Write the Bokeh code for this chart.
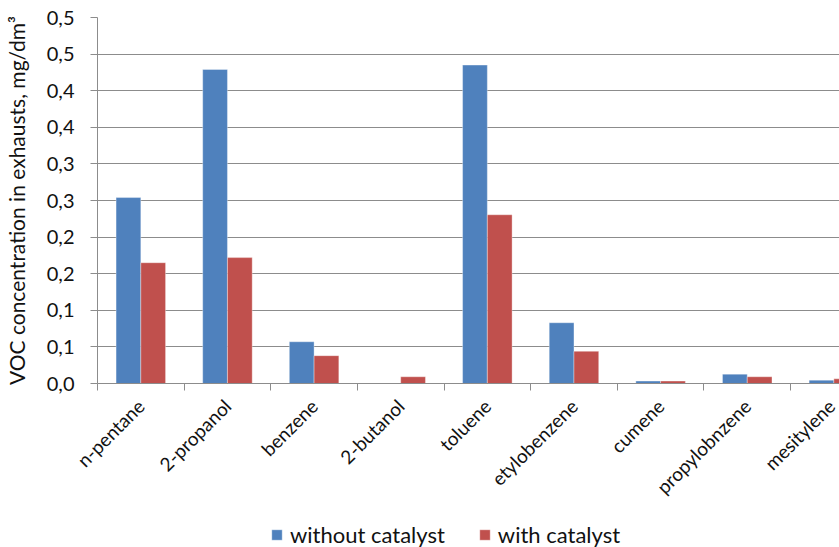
import math
from bokeh.plotting import figure
from bokeh.models import FixedTicker, Legend, LegendItem, ColumnDataSource, Range1d
from bokeh.embed import file_html
from bokeh.resources import INLINE

categories = ["n-pentane", "2-propanol", "benzene", "2-butanol", "toluene",
              "etylobenzene", "cumene", "propylobnzene", "mesitylene"]
without_catalyst = [0.254, 0.429, 0.057, 0.0, 0.435, 0.083, 0.0033, 0.0128, 0.0046]
with_catalyst = [0.165, 0.172, 0.038, 0.0092, 0.2305, 0.044, 0.0033, 0.0092, 0.0064]
y_ticks = [0.0, 0.05, 0.1, 0.15, 0.2, 0.25, 0.3, 0.35, 0.4, 0.45, 0.5]
y_tick_labels = ["0,0", "0,1", "0,1", "0,2", "0,2", "0,3", "0,3", "0,4", "0,4", "0,5", "0,5"]
series_names = ["without catalyst", "with catalyst"]

FONT = "Lato"
BLUE = "#4F81BD"
RED = "#C0504D"
GRID = "#8c8c8c"

bw = 1 / 3.5
n = len(categories)
centers = [i + 0.5 for i in range(n)]

src = ColumnDataSource(dict(
    xb=[c - bw / 2 for c in centers],
    xr=[c + bw / 2 for c in centers],
    wo=without_catalyst,
    wi=with_catalyst,
))

p = figure(frame_width=742, frame_height=366, output_backend="svg", toolbar_location=None,
           x_range=Range1d(0, 8.565), y_range=Range1d(0, 0.5),
           min_border_left=97, min_border_right=0, min_border_top=17, min_border_bottom=135)
p.outline_line_color = None
p.background_fill_color = "white"
p.border_fill_color = "white"

p.vbar(x="xb", top="wo", width=bw, source=src, fill_color=BLUE,
       line_color="white", line_alpha=0.35, line_width=1)
p.vbar(x="xr", top="wi", width=bw, source=src, fill_color=RED,
       line_color="white", line_alpha=0.35, line_width=1)

# x axis
xa = p.xaxis[0]
xa.ticker = FixedTicker(ticks=centers, minor_ticks=list(range(n + 1)))
xa.major_label_overrides = {c: name for c, name in zip(centers, categories)}
xa.major_label_orientation = math.pi / 4
xa.major_tick_out = 0
xa.major_tick_in = 0
xa.minor_tick_out = 7
xa.minor_tick_in = 0
xa.minor_tick_line_color = GRID
xa.axis_line_color = GRID
xa.major_label_text_font = FONT
xa.major_label_text_font_size = "19px"
xa.major_label_text_color = "#111111"
xa.major_label_standoff = 12

# y axis
ya = p.yaxis[0]
ya.ticker = FixedTicker(ticks=y_ticks)
ya.major_label_overrides = {t: l for t, l in zip(y_ticks, y_tick_labels)}
ya.major_tick_out = 7
ya.major_tick_in = 0
ya.minor_tick_out = 0
ya.minor_tick_in = 0
ya.major_tick_line_color = GRID
ya.axis_line_color = GRID
ya.major_label_text_font = FONT
ya.major_label_text_font_size = "20px"
ya.major_label_text_color = "#111111"
ya.major_label_standoff = 16
ya.axis_label = "VOC concentration in exhausts, mg/dm³"
ya.axis_label_text_font = FONT
ya.axis_label_text_font_size = "21px"
ya.axis_label_text_font_style = "normal"
ya.axis_label_text_color = "#111111"
ya.axis_label_standoff = 15

p.xgrid.visible = False
p.ygrid.grid_line_color = GRID
p.ygrid.grid_line_width = 1

# legend strip below the chart (separate root, not frame-aligned)
pl = figure(width=839, height=34, output_backend="svg", toolbar_location=None,
            x_range=Range1d(0, 1), y_range=Range1d(0, 1),
            x_axis_location=None, y_axis_location=None, min_border=0)
pl.outline_line_color = None
pl.background_fill_color = "white"
pl.border_fill_color = "white"
pl.xgrid.visible = False
pl.ygrid.visible = False
# legend-only renderers: zero-height bars, nothing visible in the strip
lr1 = pl.vbar(x=[0.5], top=[0], width=0, fill_color=BLUE, line_color="white", line_alpha=0.35)
lr2 = pl.vbar(x=[0.5], top=[0], width=0, fill_color=RED, line_color="white", line_alpha=0.35)
legend = Legend(items=[LegendItem(label=series_names[0], renderers=[lr1]),
                       LegendItem(label=series_names[1], renderers=[lr2])],
                orientation="horizontal", location=(270, 4),
                border_line_color=None, background_fill_alpha=0,
                glyph_width=13, glyph_height=13, label_standoff=7, spacing=33,
                padding=0, margin=0,
                label_text_font=FONT, label_text_font_size="22px",
                label_text_color="#111111")
pl.add_layout(legend)

open("out.html", "w").write(file_html([p, pl], INLINE))
